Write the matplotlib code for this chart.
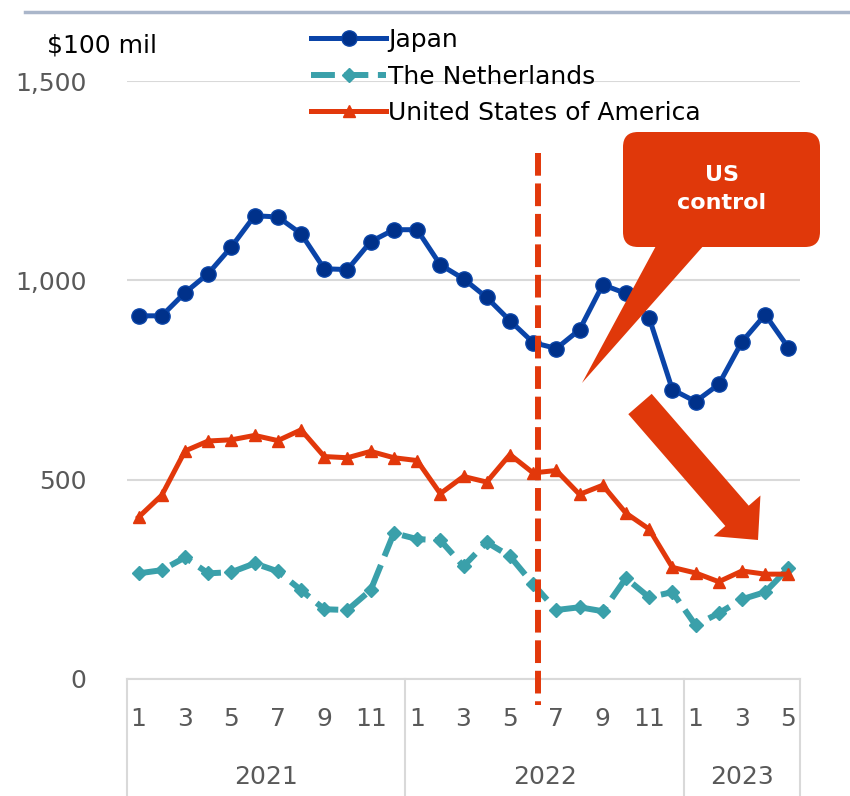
import numpy as np
import matplotlib
matplotlib.use("Agg")
import matplotlib.pyplot as plt
import matplotlib.patches as mpatches
from matplotlib.transforms import Affine2D, blended_transform_factory

# monthly exports, unit: $100 mil (Jan 2021 .. May 2023)
years = ["2021", "2022", "2023"]
months_per_year = [12, 12, 5]
month_labels = ["1", "3", "5", "7", "9", "11",
                "1", "3", "5", "7", "9", "11",
                "1", "3", "5"]

japan = [911, 911, 969, 1017, 1084, 1162, 1159, 1117, 1029, 1027, 1097, 1127,
         1127, 1039, 1004, 957, 899, 844, 829, 876, 989, 967, 906, 726,
         696, 739, 846, 914, 831]
netherlands = [265, 273, 305, 265, 268, 290, 270, 223, 175, 173, 223, 366,
               351, 348, 283, 343, 308, 238, 173, 180, 170, 253, 205, 218,
               135, 165, 200, 218, 278]
usa = [406, 461, 572, 597, 600, 611, 598, 625, 558, 555, 571, 555,
       548, 465, 508, 494, 563, 517, 523, 463, 486, 416, 376, 280,
       266, 244, 271, 263, 263]

control_x = 17.2          # position of the US export-control marker line
y_ticks = [0, 500, 1000, 1500]

C_JP = "#0a44a8"
C_JP_MK = "#00318a"
C_NL = "#3aa0aa"
C_US = "#e2380b"
C_CALLOUT = "#e0380a"
GRID = "#d9d9d9"
TXT = "#595959"

W, H = 850, 796
fig = plt.figure(figsize=(W / 100, H / 100), dpi=100)
ax = fig.add_axes([127 / W, (H - 679) / H, (800 - 127) / W, (679 - 81) / H])

# pixel coordinates with origin at top-left, for the slide decorations
px = Affine2D().scale(1 / W, -1 / H).translate(0, 1) + fig.transFigure

x = np.arange(len(japan))
ax.plot(x, japan, color=C_JP, lw=3.6, marker="o", ms=11,
        mfc=C_JP_MK, mec=C_JP, mew=1, label="Japan", zorder=4)
ax.plot(x, netherlands, color=C_NL, lw=4.3, ls=(0, (4.0, 1.6)),
        marker="D", ms=7, mfc=C_NL, mec=C_NL, label="The Netherlands", zorder=3)
ax.plot(x, usa, color=C_US, lw=3.6, marker="^", ms=8.5,
        mfc=C_US, mec=C_US, label="United States of America", zorder=3)

ax.set_xlim(-0.5, len(japan) - 0.5)
ax.set_ylim(0, 1500)
ax.set_yticks(y_ticks)
ax.set_yticklabels([f"{v:,}" for v in y_ticks])
ax.set_xticks(x[::2])
ax.set_xticklabels(month_labels)
ax.tick_params(axis="both", length=0, labelsize=18, labelcolor=TXT)
ax.tick_params(axis="y", pad=29)
ax.tick_params(axis="x", pad=20)
ax.grid(axis="y", color=GRID, lw=1.5)
ax.set_axisbelow(True)
for side in ["left", "right", "top"]:
    ax.spines[side].set_visible(False)
ax.spines["bottom"].set_color(GRID)
ax.spines["bottom"].set_linewidth(1.5)

# year group labels and separators under the month axis
trans = blended_transform_factory(ax.transData, ax.transAxes)
edges = np.concatenate([[0], np.cumsum(months_per_year)]) - 0.5
for e in edges:
    ax.plot([e, e], [0, -0.2], color=GRID, lw=1.5, transform=trans, clip_on=False)
for yr, a, b in zip(years, edges[:-1], edges[1:]):
    ax.text((a + b) / 2, -0.164, yr, transform=trans, ha="center", va="center",
            fontsize=18, color=TXT)

# dashed line marking the start of US controls
ax.plot([control_x, control_x], [1320, -65], color=C_US, lw=4.3,
        ls=(0, (3.8, 1.3)), clip_on=False, zorder=5)

ax.legend(loc="upper left", bbox_to_anchor=(311 / W, 1 - 28 / H),
          bbox_transform=fig.transFigure, frameon=False, fontsize=18,
          handlelength=3.0, handletextpad=0.1, labelspacing=0.5,
          borderpad=0, borderaxespad=0)

fig.text(47 / W, 1 - 45 / H, "$100 mil", fontsize=18, color="black",
         ha="left", va="center")

# top rule of the slide
fig.add_artist(plt.Line2D([25, 850], [12, 12], color="#aab6ca", lw=2.5,
                          transform=px))

# callout "US control"
box = mpatches.FancyBboxPatch((623, 132), 197, 115,
                              boxstyle="round,pad=0,rounding_size=15",
                              fc=C_CALLOUT, ec="none", transform=px, zorder=6)
fig.add_artist(box)
tail = mpatches.Polygon([(657, 244), (705, 244), (582, 383)], closed=True,
                        fc=C_CALLOUT, ec="none", transform=px, zorder=6)
fig.add_artist(tail)
fig.text(722 / W, 1 - 189 / H, "US\ncontrol", ha="center", va="center",
         fontsize=16, fontweight="bold", color="white", linespacing=1.5,
         zorder=7)

# big downward arrow
arrow = mpatches.FancyArrow(640, 404, 118, 136, width=31, head_width=62,
                            head_length=32, length_includes_head=True,
                            fc=C_CALLOUT, ec="none", transform=px, zorder=6)
fig.add_artist(arrow)

fig.savefig("out.png", dpi=100)
